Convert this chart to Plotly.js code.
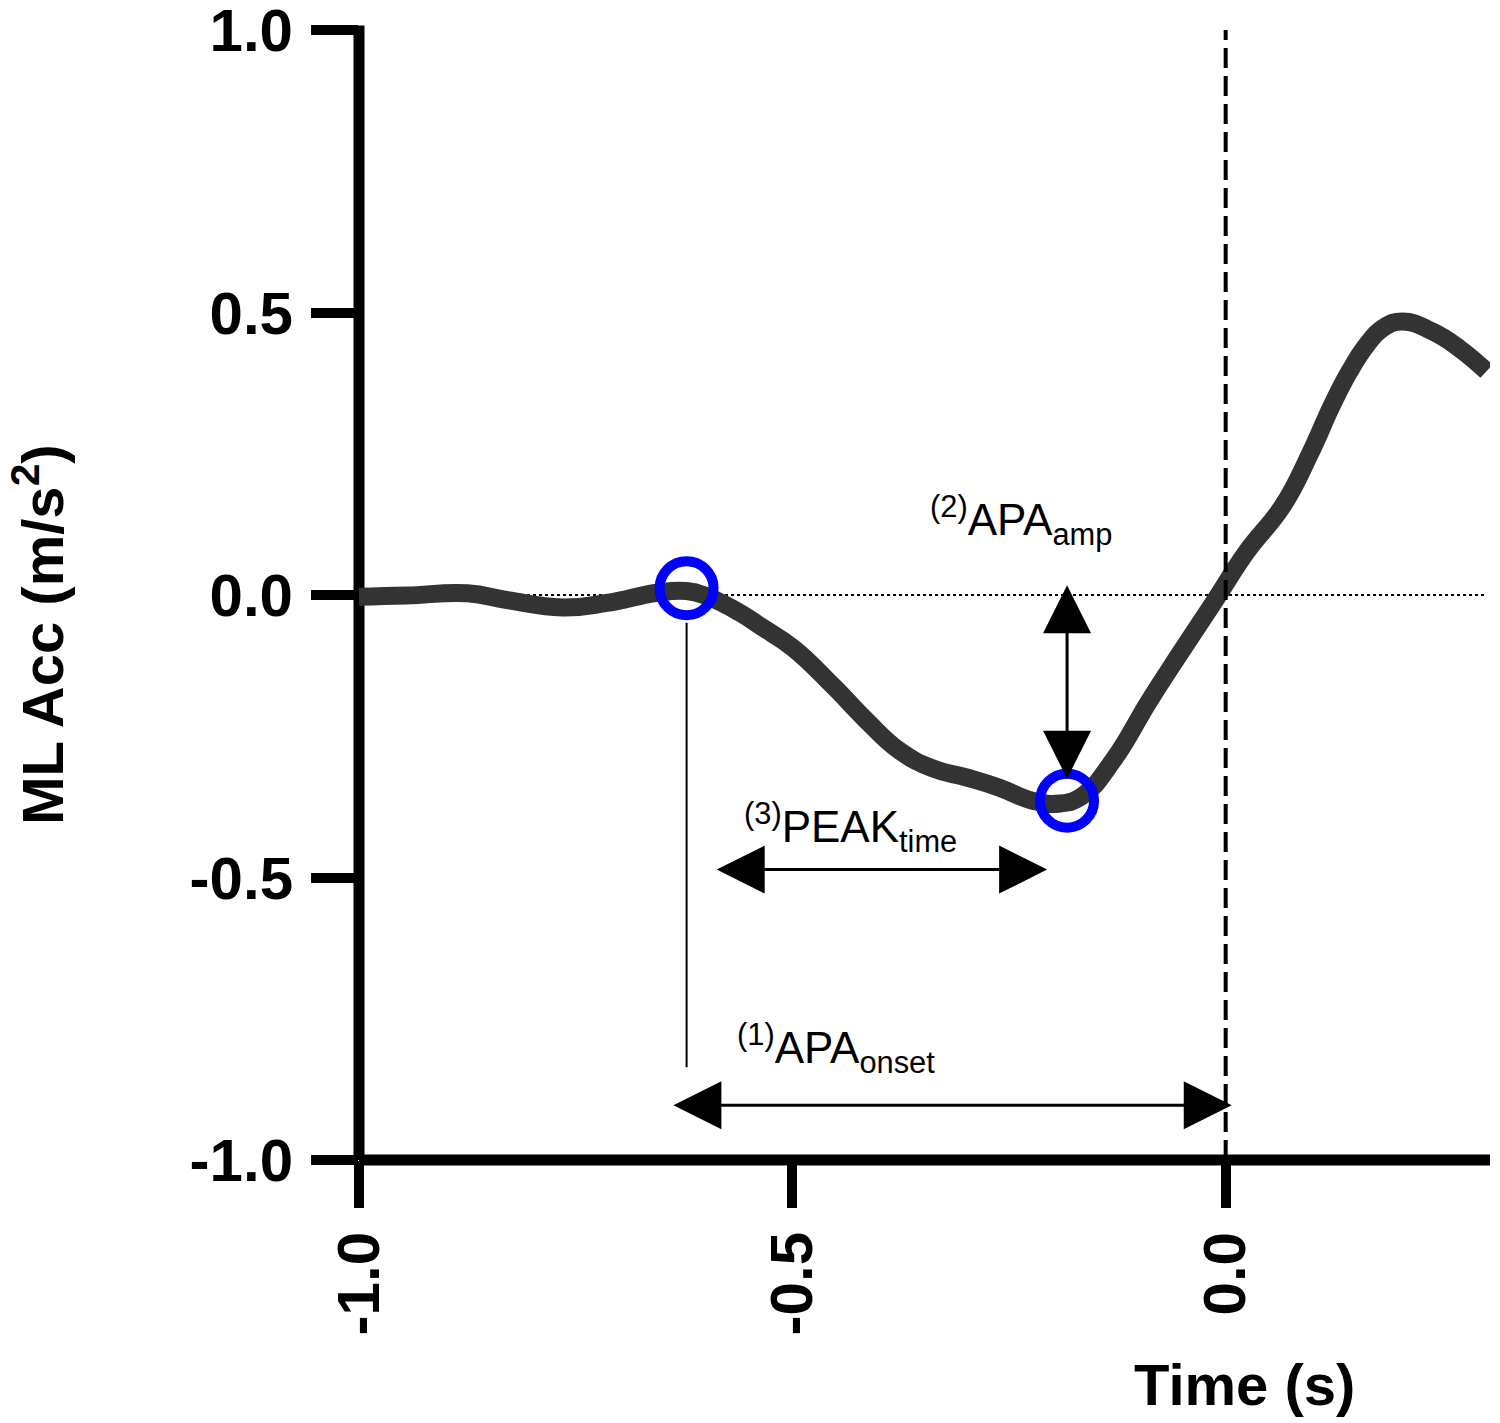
<!DOCTYPE html>
<html>
<head>
<meta charset="utf-8">
<script src="https://cdn.plot.ly/plotly-3.0.1.min.js"></script>
<style>html,body{margin:0;padding:0;background:#fff;}#chart{width:1500px;height:1423px;}</style>
</head>
<body>
<div id="chart"></div>
<script>
// ---- data ----
const timeS = [-1.0, -0.945, -0.875, -0.829, -0.765, -0.714, -0.656, -0.622, -0.599, -0.561, -0.537, -0.499, -0.453, -0.414, -0.376, -0.338, -0.299, -0.261, -0.223, -0.191, -0.165, -0.130, -0.088, -0.053, -0.015, 0.024, 0.066, 0.097, 0.123, 0.143, 0.163, 0.181, 0.204, 0.239, 0.270, 0.301];
const mlAcc = [-0.003, -0.001, 0.003, -0.009, -0.022, -0.014, 0.004, 0.007, -0.002, -0.031, -0.055, -0.094, -0.161, -0.223, -0.276, -0.307, -0.323, -0.341, -0.364, -0.369, -0.355, -0.293, -0.187, -0.104, -0.016, 0.076, 0.158, 0.249, 0.337, 0.396, 0.443, 0.472, 0.484, 0.466, 0.436, 0.396];
const eventTimes = [-0.622, -0.183];      // APA onset, APA peak
const eventValues = [0.012, -0.364];
const xTickVals = [-1.0, -0.5, 0.0];
const xTickText = ['-1.0', '-0.5', '0.0'];
const yTickVals = [-1.0, -0.5, 0.0, 0.5, 1.0];
const yTickText = ['-1.0', '-0.5', '0.0', '0.5', '1.0'];
const xRange = [-1.0, 0.305];
const yRange = [-1.0, 1.0];
// measurement arrows (data coordinates)
const onsetArrowX = [-0.639, 0.007];
const onsetArrowY = -0.903;
const peakArrowX = [-0.589, -0.206];
const peakArrowY = -0.486;
const ampArrowX = -0.183;
const ampArrowY = [0.021, -0.325];
const onsetGuideY = [-0.049, -0.836];
const labels = ['<sup>(1)</sup>APA<sub>onset</sub>', '<sup>(2)</sup>APA<sub>amp</sub>', '<sup>(3)</sup>PEAK<sub>time</sub>'];
const labelX = [-0.566, -0.344, -0.558];
const labelY = [-0.802, 0.131, -0.412];

const FONT = 'Liberation Sans, Arial, Helvetica, sans-serif';

const traces = [
  {x: timeS, y: mlAcc, mode: 'lines', line: {color: '#333333', width: 18, shape: 'spline', smoothing: 1.3},
   hoverinfo: 'skip', cliponaxis: false},
  {x: eventTimes, y: eventValues, mode: 'markers', cliponaxis: false,
   marker: {symbol: 'circle-open', size: 54, color: '#0000ff', line: {color: '#0000ff', width: 10}}}
];

function dbl(x0, y0, x1, y1) {
  return {x: x1, y: y1, ax: x0, ay: y0, xref: 'x', yref: 'y', axref: 'x', ayref: 'y',
    text: ' ', font: {size: 1}, showarrow: true, arrowside: 'end+start',
    arrowhead: 2, startarrowhead: 2, arrowsize: 3.2, startarrowsize: 3.2,
    arrowwidth: 3, arrowcolor: '#000', standoff: 0, startstandoff: 0};
}

const annotations = [
  dbl(onsetArrowX[0], onsetArrowY, onsetArrowX[1], onsetArrowY),
  dbl(peakArrowX[0], peakArrowY, peakArrowX[1], peakArrowY),
  dbl(ampArrowX, ampArrowY[0], ampArrowX, ampArrowY[1]),
];
labels.forEach((t, i) => annotations.push({
  x: labelX[i], y: labelY[i], xref: 'x', yref: 'y', text: t, showarrow: false,
  xanchor: 'left', yanchor: 'middle', font: {family: FONT, size: 44, color: '#000'}
}));
annotations.push({x: -0.284, y: 0.4646, xref: 'paper', yref: 'paper', text: 'ML Acc (m/s<sup>2</sup>)',
  textangle: -90, showarrow: false, xanchor: 'center', yanchor: 'middle',
  font: {family: FONT, size: 58, color: '#000', weight: 'bold'}});
annotations.push({x: 0.783, y: -0.199, xref: 'paper', yref: 'paper', text: 'Time (s)',
  showarrow: false, xanchor: 'center', yanchor: 'middle',
  font: {family: FONT, size: 58, color: '#000', weight: 'bold'}});

const shapes = [
  // zero reference (dotted)
  {type: 'line', xref: 'paper', yref: 'y', x0: 0, x1: 0.997, y0: 0, y1: 0, layer: 'below',
   line: {color: '#000', width: 2, dash: 'dot'}},
  // time zero (dashed)
  {type: 'line', xref: 'x', yref: 'y', x0: 0, x1: 0, y0: yRange[0], y1: yRange[1], layer: 'above',
   line: {color: '#000', width: 4, dash: '20px,8px'}},
  // onset guide
  {type: 'line', xref: 'x', yref: 'y', x0: eventTimes[0], x1: eventTimes[0], y0: onsetGuideY[0], y1: onsetGuideY[1],
   layer: 'above', line: {color: '#000', width: 2}},
  // axis lines
  {type: 'line', xref: 'paper', yref: 'paper', x0: 0, x1: 0, y0: 0, y1: 1.004, layer: 'below',
   line: {color: '#000', width: 11}},
  {type: 'line', xref: 'paper', yref: 'paper', x0: 0, x1: 1, y0: 0, y1: 0, layer: 'below',
   line: {color: '#000', width: 11}},
];

const layout = {
  width: 1500, height: 1423,
  margin: {l: 359, r: 10, t: 30, b: 263, pad: 0},
  paper_bgcolor: '#fff', plot_bgcolor: '#fff',
  showlegend: false,
  font: {family: FONT, color: '#000'},
  xaxis: {range: xRange, showgrid: false, zeroline: false, showline: false,
    tickmode: 'array', tickvals: xTickVals, ticktext: xTickText, tickangle: -90,
    ticks: 'outside', ticklen: 47, tickwidth: 10, tickcolor: '#000', ticklabeloverflow: 'allow',
    tickfont: {family: FONT, size: 60, color: '#000', weight: 'bold'}, ticklabelstandoff: 0},
  yaxis: {range: yRange, showgrid: false, zeroline: false, showline: false,
    tickmode: 'array', tickvals: yTickVals, ticktext: yTickText, ticklabeloverflow: 'allow',
    ticks: 'outside', ticklen: 47, tickwidth: 10, tickcolor: '#000',
    tickfont: {family: FONT, size: 60, color: '#000', weight: 'bold'}, ticklabelstandoff: 6},
  shapes: shapes,
  annotations: annotations
};

Plotly.newPlot('chart', traces, layout, {staticPlot: true});
</script>
</body>
</html>
